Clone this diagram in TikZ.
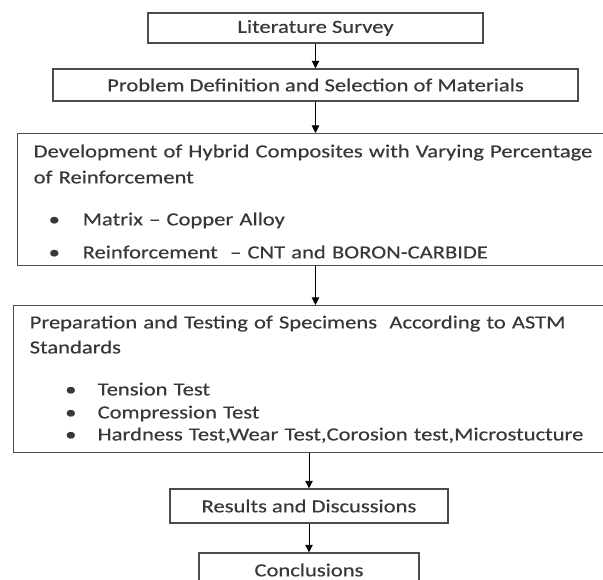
\documentclass[tikz,border=0pt]{standalone}
\usepackage{fontspec}
\setmainfont{Carlito}[FakeStretch=1.22,FakeBold=0.4]
\usepackage{tikz}
\usetikzlibrary{arrows.meta}
\definecolor{boxline}{gray}{0.3}
\definecolor{boxtext}{gray}{0.22}
\newcommand{\blt}[2]{\hspace*{#1}\makebox[#2][l]{\textbullet}}

\begin{document}
\begin{tikzpicture}[x=1pt,y=-1pt,
    box/.style={draw=boxline,line width=1.4pt,text=boxtext,inner sep=0pt,
      font=\fontsize{18.5}{23}\selectfont},
    listbox/.style={box,align=left,anchor=north west,inner xsep=16pt},
    >={Triangle[length=7.5pt,width=7.5pt]}]
  \useasboundingbox (0,0) rectangle (603,580);
  \clip (0,0) rectangle (603,580);
  % steps
  \node[box,minimum width=335pt,minimum height=30pt] (lit) at (315.5,28) {Literature Survey};
  \node[box,minimum width=525pt,minimum height=32pt] (prob) at (315.5,85)
    {Problem Definition and Selection of Materials};
  \node[listbox,text width=620pt,minimum height=132pt] (dev) at (17,133)
    {\rule{0pt}{16.5pt}Development of Hybrid Composites with Varying Percentage\\[3pt]
     of Reinforcement\\[19pt]
     \blt{15pt}{34pt}Matrix – Copper Alloy\\[10pt]
     \blt{15pt}{34pt}Reinforcement \ – CNT and BORON-CARBIDE};
  \node[listbox,text width=620pt,minimum height=147pt] (prep) at (13,305)
    {Preparation and Testing of Specimens \ According to ASTM\\[2pt]
     Standards\\[19pt]
     \blt{35.5pt}{32.5pt}Tension Test\\
     \blt{35.5pt}{32.5pt}Compression Test\\[-1pt]
     \blt{35.5pt}{32.5pt}Hardness Test,Wear Test,Corosion test,Microstucture};
  \node[box,minimum width=278pt,minimum height=34pt] (res) at (309,506) {Results and Discussions};
  \node[box,minimum width=220pt,minimum height=34pt] (conc) at (309,570) {Conclusions};
  % arrows
  \draw[->,line width=0.9pt] (lit) -- (prob);
  \draw[->,line width=0.9pt] (prob) -- (prob |- dev.north);
  \draw[->,line width=0.9pt] (prob |- dev.south) -- (prob |- prep.north);
  \draw[->,line width=0.9pt] (res |- prep.south) -- (res);
  \draw[->,line width=0.9pt] (res) -- (conc);
\end{tikzpicture}
\end{document}
